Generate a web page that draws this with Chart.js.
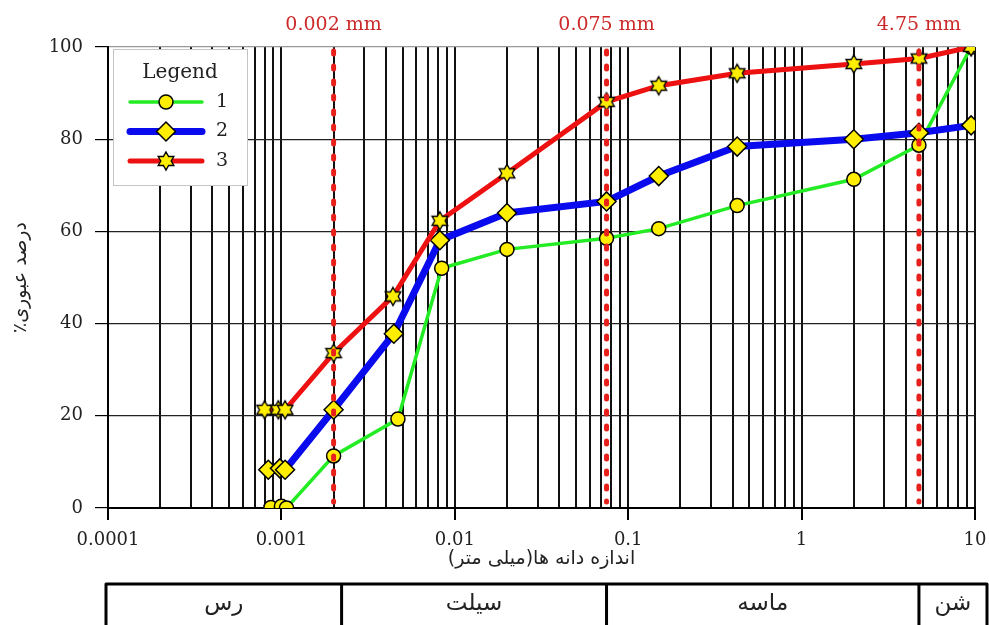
<!DOCTYPE html>
<html>
<head>
<meta charset="utf-8">
<script src="https://cdn.jsdelivr.net/npm/chart.js@4.4.0/dist/chart.umd.min.js"></script>
<style>
  html, body { margin: 0; padding: 0; background: #fff; }
  #wrap { width: 989px; height: 625px; }
</style>
</head>
<body>
<div id="wrap"><canvas id="grading" width="989" height="625"></canvas></div>
<script>
// grain size (mm) and percent passing for each sample
const size1 = [0.00087, 0.001, 0.00107, 0.002, 0.0047, 0.0084, 0.02, 0.075, 0.15, 0.425, 2.0, 4.75, 9.5];
const pass1 = [0.1, 0.4, 0, 11.3, 19.3, 52.0, 56.1, 58.5, 60.6, 65.6, 71.3, 78.7, 100];
const size2 = [0.00084, 0.00098, 0.00105, 0.002, 0.00445, 0.0082, 0.02, 0.075, 0.15, 0.425, 2.0, 4.75, 9.5];
const pass2 = [8.3, 8.6, 8.3, 21.3, 37.8, 58.1, 64.0, 66.5, 72.0, 78.4, 80.0, 81.4, 83.0];
const size3 = [0.0008, 0.00096, 0.00105, 0.002, 0.0044, 0.0082, 0.02, 0.075, 0.15, 0.425, 2.0, 4.75, 9.5];
const pass3 = [21.3, 21.3, 21.3, 33.6, 45.9, 62.3, 72.6, 88.1, 91.6, 94.3, 96.3, 97.5, 100];
const sampleNames = ['1', '2', '3'];

// soil class limits (mm) and class names
const boundaries = [0.002, 0.075, 4.75];
const boundaryLabels = ['0.002 mm', '0.075 mm', '4.75 mm'];
const soilClasses = ['رس', 'سیلت', 'ماسه', 'شن'];

const decades = [-4, -3, -2, -1, 0];
const xMin = 0.0001, xMax = 10;
const yMin = 0, yMax = 100, yStep = 20;

// one gridline at every 1..9 of each decade, plus the closing 10
const gridValues = [];
decades.forEach(e => {
  for (let k = 1; k <= 9; k++) gridValues.push(parseFloat((k * Math.pow(10, e)).toPrecision(12)));
});
gridValues.push(xMax);

function isDecade(v) {
  const l = Math.log10(v);
  return Math.abs(l - Math.round(l)) < 1e-9;
}

// six pointed star marker
function makeStar(r) {
  const s = Math.ceil(r * 2 + 4);
  const c = document.createElement('canvas');
  c.width = s; c.height = s;
  const g = c.getContext('2d');
  g.translate(s / 2, s / 2);
  g.beginPath();
  for (let i = 0; i < 12; i++) {
    const rad = i % 2 === 0 ? r : r * 0.58;
    const a = -Math.PI / 2 + i * Math.PI / 6;
    g.lineTo(rad * Math.cos(a), rad * Math.sin(a));
  }
  g.closePath();
  g.fillStyle = '#ffee00';
  g.fill();
  g.lineWidth = 1.4;
  g.strokeStyle = '#000';
  g.stroke();
  return c;
}
const star = makeStar(9);

const pts = (xs, ys) => xs.map((x, i) => ({ x: x, y: ys[i] }));

const overlay = {
  id: 'overlay',
  afterDatasetsDraw(chart) {
    const { ctx, chartArea: a, scales: { x } } = chart;
    ctx.save();
    ctx.strokeStyle = '#e8201c';
    ctx.lineWidth = 5;
    ctx.lineCap = 'round';
    ctx.setLineDash([3, 12]);
    boundaries.forEach(b => {
      const px = x.getPixelForValue(b);
      ctx.beginPath();
      ctx.moveTo(px, a.top + 4);
      ctx.lineTo(px, a.bottom - 6);
      ctx.stroke();
    });
    ctx.setLineDash([]);
    ctx.fillStyle = '#cc2a2a';
    ctx.font = '19px "DejaVu Serif"';
    ctx.textAlign = 'center';
    ctx.textBaseline = 'alphabetic';
    boundaries.forEach((b, i) => {
      ctx.fillText(boundaryLabels[i], x.getPixelForValue(b), a.top - 17);
    });
    ctx.restore();
  },
  afterDraw(chart) {
    const { ctx, chartArea: a, scales: { x } } = chart;
    ctx.save();

    // legend box
    const bx = a.left + 5, by = a.top + 2, bw = 134, bh = 136;
    ctx.fillStyle = '#fff';
    ctx.fillRect(bx, by, bw, bh);
    ctx.strokeStyle = '#c4c4c4';
    ctx.lineWidth = 1;
    ctx.strokeRect(bx + 0.5, by + 0.5, bw, bh);
    ctx.fillStyle = '#222';
    ctx.font = '20px "DejaVu Serif"';
    ctx.textAlign = 'center';
    ctx.textBaseline = 'middle';
    ctx.fillText('Legend', bx + bw / 2, by + 24);
    chart.data.datasets.forEach((ds, i) => {
      const y = by + 53 + i * 29.5;
      ctx.strokeStyle = ds.borderColor;
      ctx.lineWidth = ds.borderWidth;
      ctx.lineCap = 'round';
      ctx.beginPath();
      ctx.moveTo(a.left + 22, y);
      ctx.lineTo(a.left + 94, y);
      ctx.stroke();
      ctx.fillStyle = ds.pointBackgroundColor;
      ctx.strokeStyle = ds.pointBorderColor;
      ctx.lineWidth = ds.pointBorderWidth;
      Chart.helpers.drawPoint(ctx, {
        pointStyle: ds.pointStyle, radius: ds.pointRadius, rotation: 0, borderWidth: ds.pointBorderWidth
      }, a.left + 58, y);
      ctx.fillStyle = '#222';
      ctx.font = '19px "DejaVu Serif"';
      ctx.textAlign = 'center';
      ctx.fillText(ds.label, a.left + 114, y);
    });

    // soil class strip under the axis
    const top = a.bottom + 76, left = a.left - 2, right = a.right + 12;
    const edges = [left].concat(boundaries.map(b => x.getPixelForValue(b)), [right]);
    edges[1] += 8;
    ctx.strokeStyle = '#000';
    ctx.lineWidth = 3;
    ctx.beginPath();
    ctx.moveTo(left, top);
    ctx.lineTo(right, top);
    edges.forEach(e => { ctx.moveTo(e, top); ctx.lineTo(e, top + 60); });
    ctx.stroke();
    ctx.fillStyle = '#222';
    ctx.font = '23px "DejaVu Sans"';
    ctx.textAlign = 'center';
    ctx.textBaseline = 'middle';
    soilClasses.forEach((name, i) => {
      ctx.fillText(name, (edges[i] + edges[i + 1]) / 2, top + 20);
    });
    ctx.restore();
  }
};

new Chart(document.getElementById('grading'), {
  type: 'line',
  data: {
    datasets: [
      {
        label: sampleNames[0], data: pts(size1, pass1),
        borderColor: '#24ec24', borderWidth: 3.5,
        pointStyle: 'circle', pointRadius: 7,
        pointBackgroundColor: '#ffee00', pointBorderColor: '#000', pointBorderWidth: 1.5,
        order: 3
      },
      {
        label: sampleNames[1], data: pts(size2, pass2),
        borderColor: '#0a0aee', borderWidth: 7,
        pointStyle: 'rectRot', pointRadius: 9.5,
        pointBackgroundColor: '#ffee00', pointBorderColor: '#000', pointBorderWidth: 1.5,
        order: 2
      },
      {
        label: sampleNames[2], data: pts(size3, pass3),
        borderColor: '#ee1111', borderWidth: 5,
        pointStyle: star, pointRadius: 9,
        pointBackgroundColor: '#ffee00', pointBorderColor: '#000', pointBorderWidth: 1.4,
        order: 1
      }
    ]
  },
  options: {
    responsive: false,
    animation: false,
    events: [],
    tension: 0,
    layout: { autoPadding: false, padding: { top: 47, right: 14, bottom: 50, left: 0 } },
    plugins: { legend: { display: false }, tooltip: { enabled: false } },
    scales: {
      x: {
        type: 'logarithmic',
        min: xMin,
        max: xMax,
        afterBuildTicks: scale => { scale.ticks = gridValues.map(v => ({ value: v })); },
        afterFit: scale => {
          scale.height = 67;
          scale.paddingLeft = 0;
          scale.paddingRight = 0;
        },
        ticks: {
          autoSkip: false, maxRotation: 0, padding: 10, color: '#222',
          font: { family: 'DejaVu Serif', size: 18 },
          callback: v => isDecade(v) ? String(v) : ''
        },
        grid: {
          color: '#111', lineWidth: 2, tickLength: 12, tickWidth: 2,
          tickColor: c => isDecade(c.tick.value) ? '#000' : 'rgba(0,0,0,0)'
        },
        border: { color: '#000', width: 2 },
        title: {
          display: true, text: 'اندازه دانه ها(میلی متر)\u200F', color: '#222',
          font: { family: 'DejaVu Sans', size: 19 }, padding: { top: 0, bottom: 5 }
        }
      },
      y: {
        min: yMin,
        max: yMax,
        afterFit: scale => { scale.width = 108; },
        ticks: {
          stepSize: yStep, padding: 12, color: '#222',
          font: { family: 'DejaVu Serif', size: 18 }
        },
        grid: {
          color: c => c.tick.value === yMax ? '#999' : '#222',
          lineWidth: 1.2, tickLength: 13, tickColor: '#000'
        },
        border: { color: '#000', width: 2 },
        title: {
          display: true, text: 'درصد عبوری٪\u200F', color: '#222',
          font: { family: 'DejaVu Sans', size: 19 }, padding: { top: 10, bottom: 0 }
        }
      }
    }
  },
  plugins: [overlay]
});
</script>
</body>
</html>
